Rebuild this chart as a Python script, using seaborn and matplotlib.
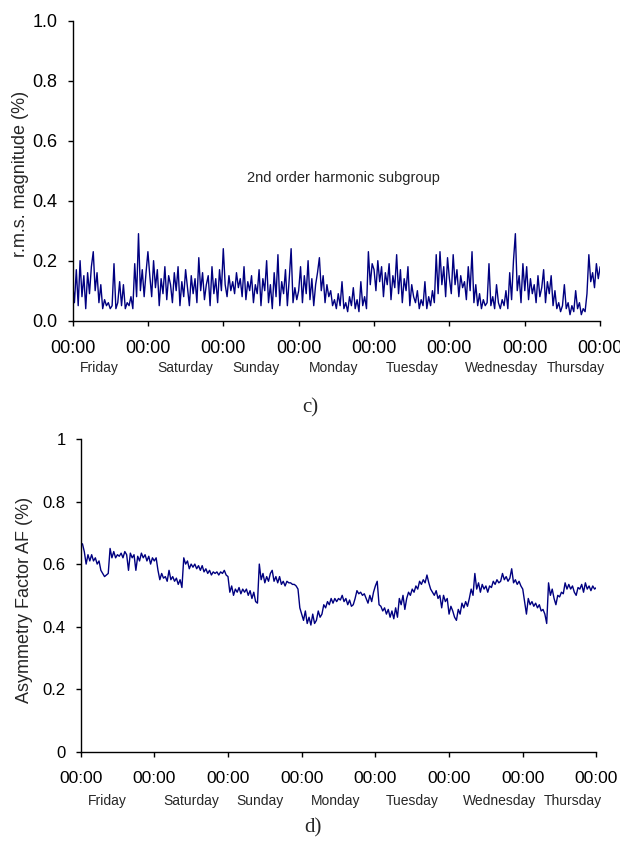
import numpy as np
import pandas as pd
import matplotlib
matplotlib.use("Agg")
import matplotlib.pyplot as plt
import matplotlib.dates as mdates
import matplotlib.transforms as mtransforms
import seaborn as sns

# ---------------- data ----------------
day_names = ["Friday", "Saturday", "Sunday", "Monday", "Tuesday", "Wednesday", "Thursday"]
day_label_pos = [0.36, 1.50, 2.43, 3.46, 4.50, 5.69, 6.68]   # in days from start
start = "2004-01-02"          # a Friday
sample_step = "36min"         # 40 samples per day

harm2_fri = [0.13,0.06,0.17,0.05,0.20,0.08,0.15,0.04,0.16,0.09,0.18,0.23,0.10,0.16,0.06,0.12,0.04,0.07,0.05,0.06,
             0.04,0.05,0.19,0.04,0.06,0.13,0.05,0.12,0.04,0.06,0.05,0.08,0.04,0.19,0.08,0.29,0.10,0.17,0.08,0.16]
harm2_sat = [0.23,0.15,0.08,0.20,0.11,0.17,0.05,0.14,0.09,0.18,0.07,0.15,0.12,0.06,0.16,0.10,0.18,0.05,0.13,0.08,
             0.17,0.11,0.05,0.15,0.09,0.14,0.06,0.21,0.10,0.16,0.07,0.12,0.15,0.05,0.18,0.09,0.14,0.06,0.17,0.10]
harm2_sun = [0.24,0.12,0.08,0.15,0.10,0.13,0.09,0.16,0.11,0.14,0.08,0.18,0.07,0.13,0.10,0.15,0.06,0.12,0.09,0.17,
             0.05,0.14,0.10,0.20,0.06,0.12,0.04,0.16,0.08,0.22,0.05,0.13,0.09,0.17,0.05,0.14,0.24,0.06,0.11,0.07]
harm2_mon = [0.10,0.18,0.06,0.15,0.09,0.20,0.07,0.14,0.05,0.12,0.16,0.21,0.10,0.15,0.06,0.12,0.08,0.10,0.05,0.07,
             0.04,0.09,0.05,0.13,0.04,0.06,0.03,0.08,0.05,0.11,0.04,0.07,0.03,0.13,0.05,0.08,0.04,0.23,0.12,0.19]
harm2_tue = [0.17,0.10,0.20,0.13,0.18,0.08,0.16,0.12,0.19,0.07,0.15,0.11,0.22,0.09,0.17,0.06,0.14,0.10,0.18,0.05,
             0.12,0.08,0.06,0.10,0.04,0.07,0.05,0.13,0.04,0.08,0.05,0.10,0.06,0.22,0.09,0.23,0.12,0.18,0.08,0.21]
harm2_wed = [0.14,0.09,0.22,0.12,0.17,0.08,0.15,0.11,0.13,0.07,0.18,0.10,0.23,0.06,0.12,0.05,0.09,0.04,0.07,0.05,
             0.06,0.19,0.05,0.08,0.04,0.12,0.06,0.04,0.07,0.05,0.10,0.04,0.16,0.07,0.20,0.29,0.10,0.15,0.06,0.19]
harm2_thu = [0.10,0.18,0.07,0.14,0.09,0.12,0.06,0.15,0.08,0.11,0.17,0.06,0.13,0.09,0.15,0.05,0.10,0.04,0.06,0.03,
             0.05,0.12,0.04,0.06,0.02,0.05,0.03,0.10,0.04,0.06,0.02,0.04,0.03,0.09,0.22,0.13,0.16,0.11,0.19,0.14,0.18]

af_fri = [0.660,0.665,0.640,0.600,0.630,0.610,0.630,0.610,0.620,0.600,0.610,0.580,0.570,0.560,0.565,0.570,0.650,0.620,0.640,0.620,
          0.630,0.625,0.635,0.620,0.640,0.630,0.580,0.635,0.620,0.630,0.580,0.625,0.610,0.635,0.620,0.630,0.610,0.625,0.600,0.620]
af_sat = [0.610,0.620,0.580,0.550,0.570,0.555,0.560,0.545,0.580,0.550,0.560,0.545,0.555,0.535,0.550,0.525,0.620,0.600,0.610,0.585,
          0.600,0.590,0.600,0.585,0.595,0.580,0.595,0.575,0.585,0.570,0.580,0.565,0.575,0.570,0.575,0.565,0.575,0.570,0.580,0.565]
af_sun = [0.560,0.510,0.530,0.500,0.520,0.510,0.525,0.505,0.520,0.510,0.520,0.500,0.515,0.490,0.510,0.480,0.475,0.600,0.550,0.570,
          0.540,0.560,0.545,0.570,0.580,0.545,0.560,0.540,0.560,0.535,0.545,0.530,0.545,0.540,0.540,0.535,0.535,0.530,0.520,0.460]
af_mon = [0.440,0.420,0.450,0.410,0.430,0.405,0.440,0.410,0.420,0.450,0.430,0.440,0.470,0.460,0.480,0.470,0.490,0.475,0.490,0.480,
          0.490,0.485,0.500,0.480,0.490,0.470,0.485,0.465,0.470,0.490,0.515,0.505,0.510,0.500,0.505,0.490,0.475,0.500,0.480,0.510]
af_tue = [0.530,0.545,0.470,0.465,0.450,0.460,0.440,0.455,0.430,0.450,0.425,0.460,0.430,0.490,0.470,0.500,0.455,0.490,0.510,0.500,
          0.520,0.510,0.530,0.520,0.545,0.535,0.550,0.540,0.565,0.540,0.520,0.510,0.500,0.515,0.490,0.500,0.460,0.500,0.480,0.490]
af_wed = [0.440,0.465,0.450,0.430,0.420,0.455,0.440,0.475,0.460,0.480,0.465,0.490,0.520,0.500,0.570,0.520,0.540,0.510,0.535,0.520,
          0.530,0.510,0.530,0.525,0.545,0.535,0.550,0.540,0.545,0.570,0.550,0.560,0.545,0.555,0.585,0.540,0.550,0.535,0.545,0.530]
af_thu = [0.520,0.480,0.440,0.490,0.470,0.480,0.465,0.475,0.460,0.470,0.450,0.455,0.440,0.410,0.540,0.500,0.520,0.490,0.470,0.500,
          0.495,0.510,0.505,0.540,0.520,0.535,0.520,0.530,0.510,0.500,0.525,0.520,0.535,0.510,0.540,0.520,0.530,0.515,0.530,0.520,0.525]

harm2 = harm2_fri + harm2_sat + harm2_sun + harm2_mon + harm2_tue + harm2_wed + harm2_thu
af = af_fri + af_sat + af_sun + af_mon + af_tue + af_wed + af_thu

times = pd.date_range(start, periods=len(harm2), freq=sample_step)
df_h = pd.DataFrame({"time": times, "value": harm2})
df_a = pd.DataFrame({"time": times, "value": af})

# ---------------- style ----------------
sns.set_style("ticks")
plt.rcParams["font.family"] = ["Liberation Sans", "DejaVu Sans"]
LINE = "#000080"

fig = plt.figure(figsize=(6.2, 8.41), dpi=100)
ax1 = fig.add_axes([0.117, 0.6187, 0.851, 0.3567])
ax2 = fig.add_axes([0.130, 0.1062, 0.832, 0.3718])

t0 = pd.Timestamp(start)
t1 = t0 + pd.Timedelta(days=7)

def style_axis(ax, xsize, ysize):
    ax.set_xlim(t0, t1)
    ax.set_ylim(0, 1)
    ax.xaxis.set_major_locator(mdates.DayLocator())
    ax.xaxis.set_major_formatter(mdates.DateFormatter("%H:%M"))
    ax.set_yticks([0, 0.2, 0.4, 0.6, 0.8, 1.0])
    for s in ["top", "right"]:
        ax.spines[s].set_visible(False)
    for s in ["left", "bottom"]:
        ax.spines[s].set_linewidth(1.0)
        ax.spines[s].set_color("black")
    ax.tick_params(axis="x", direction="out", length=3.8, width=1.0, pad=10, labelsize=xsize, colors="black")
    ax.tick_params(axis="y", direction="out", length=3.8, width=1.0, pad=7, labelsize=ysize, colors="black")
    ax.set_xlabel("")
    ax.grid(False)

# top panel
sns.lineplot(data=df_h, x="time", y="value", ax=ax1, color=LINE, linewidth=1.0)
style_axis(ax1, 13, 13)
ax1.set_yticklabels(["0.0", "0.2", "0.4", "0.6", "0.8", "1.0"])
ax1.set_ylabel("r.m.s. magnitude (%)", fontsize=13)
ax1.yaxis.set_label_coords(-0.082, 0.49)
ax1.text(t0 + pd.Timedelta(days=3.6), 0.476, "2nd order harmonic subgroup",
         ha="center", va="center", fontsize=10.5)

# bottom panel
sns.lineplot(data=df_a, x="time", y="value", ax=ax2, color=LINE, linewidth=1.0)
style_axis(ax2, 12.5, 12)
ax2.set_yticklabels(["0", "0.2", "0.4", "0.6", "0.8", "1"])
ax2.set_ylabel("Asymmetry Factor AF (%)", fontsize=13)
ax2.yaxis.set_label_coords(-0.092, 0.486)

for ax, yoff in [(ax1, -0.158), (ax2, -0.158)]:
    tr = mtransforms.blended_transform_factory(ax.transData, ax.transAxes)
    for name, pos in zip(day_names, day_label_pos):
        ax.text(mdates.date2num(t0 + pd.Timedelta(days=pos)), yoff, name,
                transform=tr, ha="center", va="center", fontsize=10, clip_on=False)

fig.text(0.5, 1 - 408 / 841, "c)", ha="center", va="center",
         family=["Liberation Serif", "DejaVu Serif"], fontsize=15)
fig.text(0.505, 1 - 828 / 841, "d)", ha="center", va="center",
         family=["Liberation Serif", "DejaVu Serif"], fontsize=15)

fig.savefig("out.png", dpi=100)
